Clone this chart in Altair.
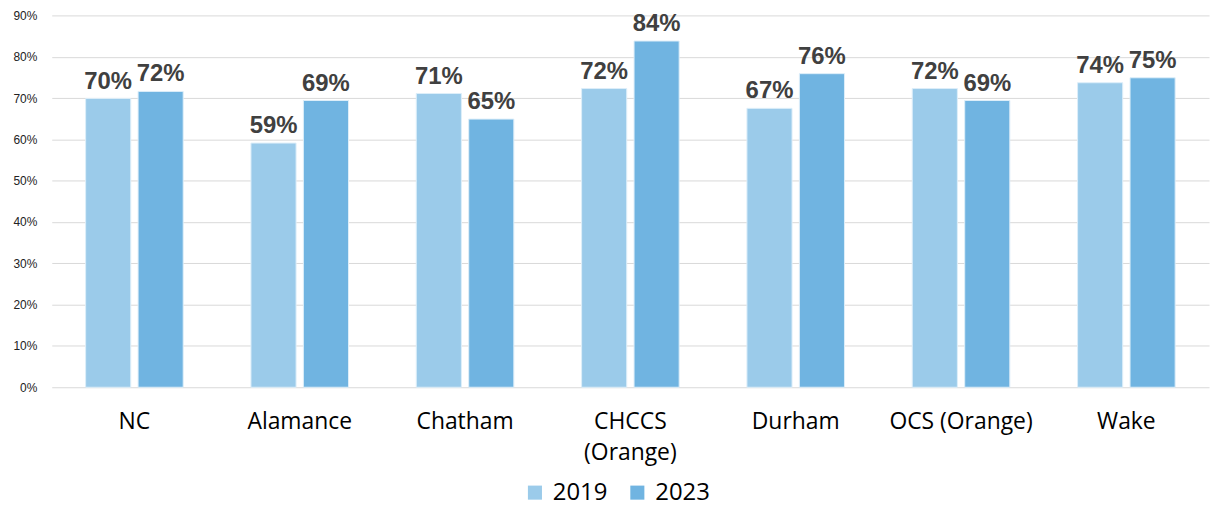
import altair as alt
import pandas as pd

categories = ["NC", "Alamance", "Chatham", "CHCCS (Orange)", "Durham", "OCS (Orange)", "Wake"]
values_2019 = [69.9, 59.1, 71.1, 72.3, 67.5, 72.3, 73.7]
values_2023 = [71.6, 69.4, 64.9, 83.8, 75.9, 69.4, 74.9]
labels_2019 = ["70%", "59%", "71%", "72%", "67%", "72%", "74%"]
labels_2023 = ["72%", "69%", "65%", "84%", "76%", "69%", "75%"]
years = ["2019", "2023"]
colors = ["#9BCBEA", "#70B4E1"]

rows = []
for i, c in enumerate(categories):
    rows.append({"cat": c, "year": "2019", "v": values_2019[i] / 100, "lab": labels_2019[i]})
    rows.append({"cat": c, "year": "2023", "v": values_2023[i] / 100, "lab": labels_2023[i]})
df = pd.DataFrame(rows)

FONT = "Liberation Sans"
XFONT = "Open Sans"

x = alt.X("cat:N", sort=categories, title=None,
          scale=alt.Scale(paddingInner=0.41, paddingOuter=0.205),
          axis=alt.Axis(labelAngle=0, labelFont=XFONT, labelFontSize=23, labelColor="#000000",
                        labelPadding=24, ticks=False, domain=False, labelLimit=300,
                        labelLineHeight=31,
                        labelExpr="datum.value == 'CHCCS (Orange)' ? ['CHCCS', '(Orange)'] : datum.value"))
xo = alt.XOffset("year:N", sort=years, scale=alt.Scale(paddingInner=0.14))
y = alt.Y("v:Q", title=None,
          scale=alt.Scale(domain=[0, 0.9], nice=False),
          axis=alt.Axis(format=".0%", values=[i / 10 for i in range(10)], labelFont=FONT,
                        labelFontSize=12, labelColor="#222222", labelPadding=15,
                        ticks=False, domain=False, gridColor="#D9D9D9", gridWidth=1))
color = alt.Color("year:N", sort=years, scale=alt.Scale(domain=years, range=colors),
                  legend=alt.Legend(title=None, orient="none", legendX=474, legendY=468,
                                    direction="horizontal", symbolType="square",
                                    symbolSize=200, symbolStrokeWidth=0, labelFont=XFONT,
                                    labelFontSize=24, labelColor="#000000", columnPadding=18,
                                    labelOffset=6))

bars = alt.Chart(df).mark_bar(stroke="#DDEEF9", strokeWidth=1).encode(x=x, xOffset=xo, y=y, color=color)
text = alt.Chart(df).mark_text(font=FONT, fontWeight="bold", fontSize=24, color="#404040",
                               baseline="alphabetic", dy=-10).encode(
    x=x, xOffset=xo, y=y, text="lab:N")

chart = alt.layer(bars, text).properties(
    width=1164, height=374,
    autosize=alt.AutoSizeParams(type="none"),
    padding={"left": 44, "top": 6, "right": 4, "bottom": 118},
).configure_view(stroke=None)

chart.save("out.html", embed_options={"renderer": "svg", "actions": False})
